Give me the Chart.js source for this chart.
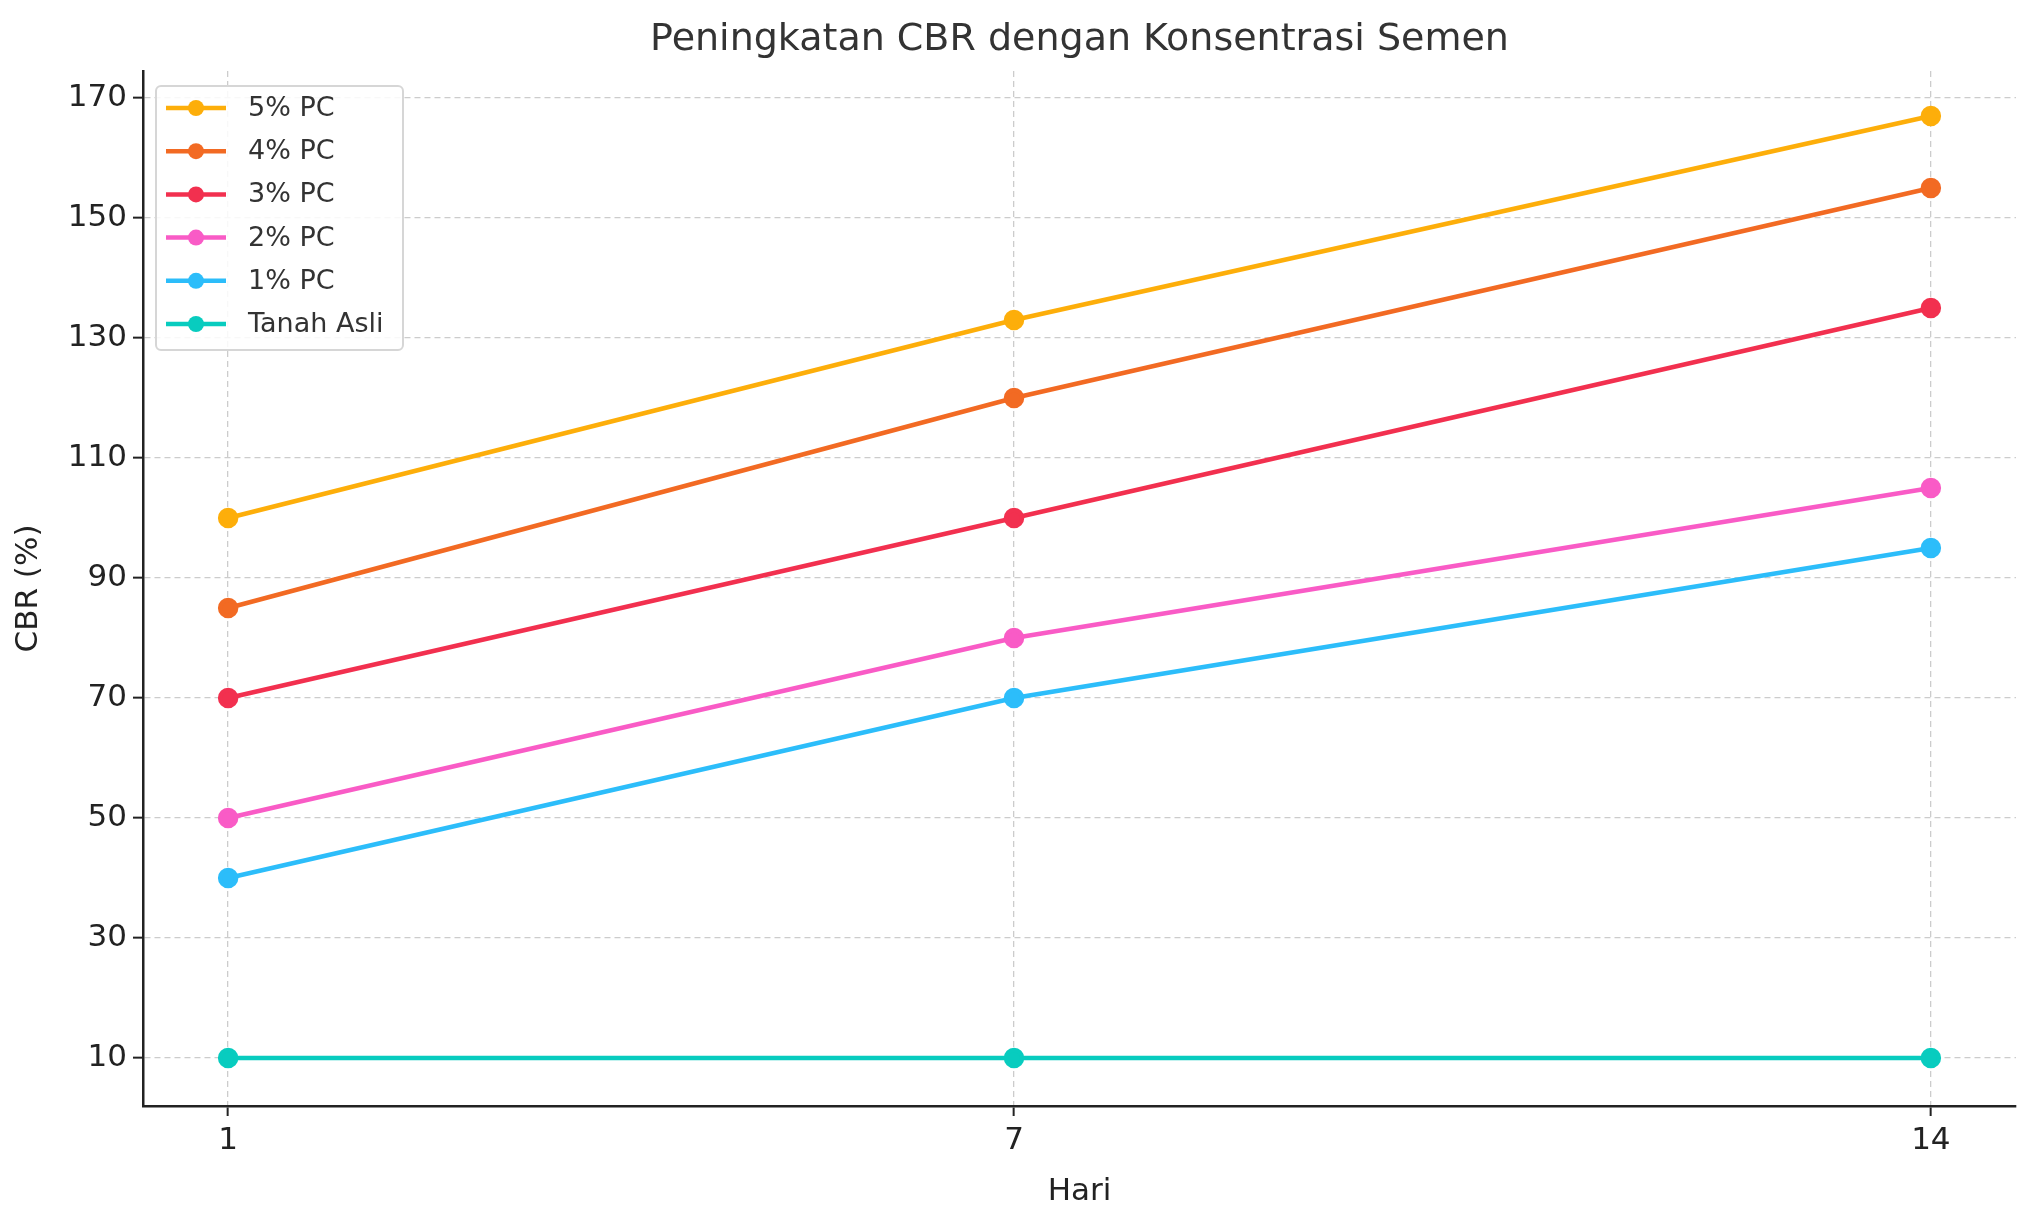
<!DOCTYPE html>
<html><head><meta charset="utf-8">
<script src="https://cdn.jsdelivr.net/npm/chart.js@4/dist/chart.umd.min.js"></script>
<style>body{margin:0;background:#fff}canvas{display:block}</style>
</head><body><canvas id="c" width="2036" height="1215"></canvas>
<script>
const days = [1, 7, 14];
const labels = ['5% PC','4% PC','3% PC','2% PC','1% PC','Tanah Asli'];
const pc5 = [100, 133, 167];
const pc4 = [85, 120, 155];
const pc3 = [70, 100, 135];
const pc2 = [50, 80, 105];
const pc1 = [40, 70, 95];
const asli = [10, 10, 10];
const yTicks = [10,30,50,70,90,110,130,150,170];
const colors = ['#FDAE0A','#F26A23','#F2304F','#F95BC6','#2CBDFA','#08CCBF'];
const series = [pc5,pc4,pc3,pc2,pc1,asli];
const F = 'DejaVu Sans';

const datasets = series.map((s,i)=>({
  label: labels[i],
  data: s.map((v,j)=>({x:days[j], y:v})),
  borderColor: colors[i], backgroundColor: colors[i],
  borderWidth: 4.5, pointRadius: 8, pointHoverRadius: 8, tension: 0
}));

const overlay = {
  id:'overlay',
  afterDraw(chart){
    const ctx = chart.ctx;
    ctx.save();
    ctx.fillStyle = '#333';
    ctx.font = `38px "${F}"`;
    ctx.textAlign='center'; ctx.textBaseline='middle';
    ctx.fillText('Peningkatan CBR dengan Konsentrasi Semen', (143+2016)/2, 40);
    ctx.fillStyle='rgba(255,255,255,0.85)';
    ctx.strokeStyle='#d6d6d6'; ctx.lineWidth=2;
    ctx.beginPath(); ctx.roundRect(156,86,247,264,5); ctx.fill(); ctx.stroke();
    ctx.font = `27px "${F}"`; ctx.textAlign='left';
    chart.data.datasets.forEach((d,i)=>{
      const y = 108 + i*43.2;
      ctx.strokeStyle=d.borderColor; ctx.lineWidth=4.5;
      ctx.beginPath(); ctx.moveTo(166,y); ctx.lineTo(226,y); ctx.stroke();
      ctx.fillStyle=d.borderColor; ctx.beginPath(); ctx.arc(196,y,8,0,Math.PI*2); ctx.fill();
      ctx.fillStyle='#333'; ctx.fillText(d.label,248,y+1);
    });
    ctx.restore();
  }
};

const gridOpts = {color:'#cccccc', lineWidth:1.3, tickColor:'#222', tickLength:10, tickWidth:2, tickBorderDash:[]};
const borderOpts = {color:'#222', width:2.5, dash:[6,4]};

new Chart(document.getElementById('c'), {
  type:'line',
  data:{datasets},
  plugins:[overlay],
  options:{
    responsive:false, animation:false, devicePixelRatio:1,
    layout:{padding:{top:71,right:20,left:0,bottom:0}},
    plugins:{legend:{display:false}, title:{display:false}, tooltip:{enabled:false}},
    scales:{
      x:{type:'linear', min:0.35, max:14.65,
        afterBuildTicks:s=>{s.ticks=days.map(v=>({value:v}));},
        afterFit:s=>{s.height=109;},
        border:borderOpts, grid:gridOpts,
        ticks:{font:{family:F,size:31}, color:'#222', padding:6},
        title:{display:true, text:'Hari', font:{family:F,size:31}, color:'#222', padding:{top:4}}
      },
      y:{min:2, max:174.5,
        afterBuildTicks:s=>{s.ticks=yTicks.map(v=>({value:v}));},
        afterFit:s=>{s.width=143;},
        border:borderOpts, grid:gridOpts,
        ticks:{font:{family:F,size:31}, color:'#222', padding:6},
        title:{display:true, text:'CBR (%)', font:{family:F,size:31}, color:'#222', padding:{top:10,bottom:4}}
      }
    }
  }
});
</script>
</body></html>
